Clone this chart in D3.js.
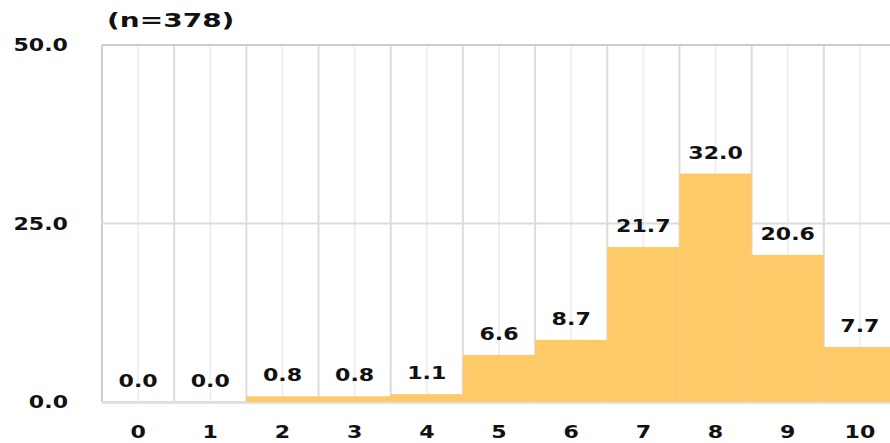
<!DOCTYPE html>
<html>
<head>
<meta charset="utf-8">
<script src="https://cdn.jsdelivr.net/npm/d3@7"></script>
<style>
  body { margin: 0; background: #fff; overflow: hidden; }
  text { font-family: "DejaVu Sans", sans-serif; font-weight: bold; fill: #111; }
</style>
</head>
<body>
<div id="chart"></div>
<script>
// chart data
var categories = ["0", "1", "2", "3", "4", "5", "6", "7", "8", "9", "10"];
var values = [0.0, 0.0, 0.8, 0.8, 1.1, 6.6, 8.7, 21.7, 32.0, 20.6, 7.7];
var yTicks = [0, 25, 50];
var sampleLabel = "(n=378)";

var svgWidth = 890;
var svgHeight = 443;

var margin = { top: 45, right: -6, bottom: 41, left: 102 };
var width = svgWidth - margin.left - margin.right;
var height = svgHeight - margin.top - margin.bottom;

// stretched bold lettering
var stretch = 1.3;

var svg = d3.select("#chart")
  .append("svg")
  .attr("width", svgWidth)
  .attr("height", svgHeight);

var chartGroup = svg.append("g")
  .attr("transform", `translate(${margin.left}, ${margin.top})`);

var xScale = d3.scaleBand()
  .domain(categories)
  .range([0, width])
  .padding(0);

var yScale = d3.scaleLinear()
  .domain([0, 50])
  .range([height, 0]);

// vertical grid: category boundaries and centres
chartGroup.selectAll(".centerLine")
  .data(categories)
  .enter()
  .append("line")
  .attr("x1", d => xScale(d) + xScale.bandwidth() / 2)
  .attr("x2", d => xScale(d) + xScale.bandwidth() / 2)
  .attr("y1", 0)
  .attr("y2", height)
  .attr("stroke", "#efefef")
  .attr("stroke-width", 2);

chartGroup.selectAll(".edgeLine")
  .data(categories)
  .enter()
  .append("line")
  .attr("x1", d => xScale(d))
  .attr("x2", d => xScale(d))
  .attr("y1", 0)
  .attr("y2", height)
  .attr("stroke", (d, i) => i === 0 ? "#cfcfcf" : "#dcdcdc")
  .attr("stroke-width", 2);

// horizontal grid
chartGroup.selectAll(".hLine")
  .data(yTicks)
  .enter()
  .append("line")
  .attr("x1", 0)
  .attr("x2", width)
  .attr("y1", d => yScale(d))
  .attr("y2", d => yScale(d))
  .attr("stroke", d => d === 50 ? "#cccccc" : "#dcdcdc")
  .attr("stroke-width", 2);

// bars
chartGroup.selectAll(".bar")
  .data(values)
  .enter()
  .append("rect")
  .attr("x", (d, i) => xScale(categories[i]))
  .attr("y", d => yScale(d))
  .attr("width", xScale.bandwidth())
  .attr("height", d => height - yScale(d))
  .attr("fill", "#fec967");

// bottom baseline drawn over bars
chartGroup.append("line")
  .attr("x1", 0)
  .attr("x2", width)
  .attr("y1", height + 1)
  .attr("y2", height + 1)
  .attr("stroke", "#e2e2e2")
  .attr("stroke-width", 2);

// value labels
chartGroup.selectAll(".valueText")
  .data(values)
  .enter()
  .append("text")
  .attr("text-anchor", "middle")
  .attr("font-size", "17px")
  .attr("transform", (d, i) => `translate(${xScale(categories[i]) + xScale.bandwidth() / 2}, ${yScale(d) - 15}) scale(${stretch}, 1)`)
  .text(d => d.toFixed(1));

// x axis labels
chartGroup.selectAll(".xText")
  .data(categories)
  .enter()
  .append("text")
  .attr("text-anchor", "middle")
  .attr("font-size", "17px")
  .attr("transform", d => `translate(${xScale(d) + xScale.bandwidth() / 2}, ${height + 36}) scale(${stretch}, 1)`)
  .text(d => d);

// y axis labels
chartGroup.selectAll(".yText")
  .data(yTicks)
  .enter()
  .append("text")
  .attr("text-anchor", "end")
  .attr("font-size", "17px")
  .attr("transform", d => `translate(-34, ${yScale(d) + 6}) scale(${stretch}, 1)`)
  .text(d => d.toFixed(1));

// sample size
svg.append("text")
  .attr("font-size", "20px")
  .attr("transform", `translate(107, 27) scale(1.4, 1)`)
  .text(sampleLabel);
</script>
</body>
</html>
